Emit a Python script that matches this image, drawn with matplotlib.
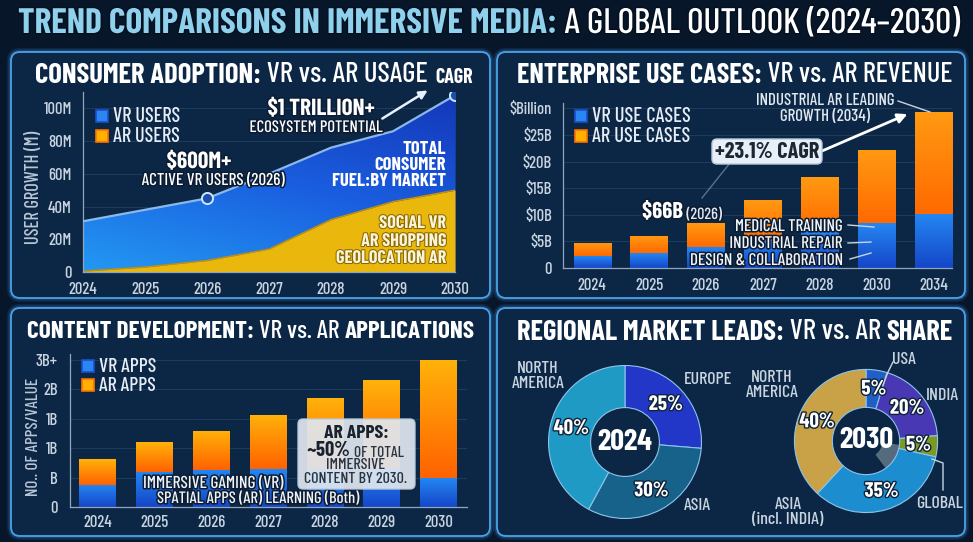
import numpy as np
import matplotlib
matplotlib.use('Agg')
import matplotlib.pyplot as plt
import matplotlib.patheffects as pe
from matplotlib.patches import FancyBboxPatch, Rectangle, Wedge
from matplotlib.colors import LinearSegmentedColormap
from matplotlib.transforms import Bbox

W, H = 973, 542
plt.rcParams['font.family'] = ['Barlow Condensed', 'Archivo Narrow', 'DejaVu Sans']

# ---- data ----
user_years = [2024, 2025, 2026, 2027, 2028, 2029, 2030]
vr_users = [31, 38, 45, 60, 76, 86, 108]      # total consumer users (M)
ar_users = [0.5, 3, 7, 14, 32, 43, 50]

ent_years = ['2024', '2025', '2026', '2027', '2028', '2030', '2034']
ent_vr = [2.2, 2.8, 3.9, 5.0, 6.9, 8.4, 10.1]
ent_ar = [2.5, 3.3, 4.5, 7.8, 10.2, 13.8, 19.3]
ent_ticks = [0, 5, 10, 15, 20, 25, 30]
ent_ticklabels = ['0', '$5B', '$10B', '$15B', '$20B', '$25B', '$Billion']

app_years = ['2024', '2025', '2026', '2027', '2028', '2029', '2030']
vr_apps = [0.38, 0.60, 0.63, 0.64, 0.65, 0.66, 0.49]
ar_apps = [0.44, 0.50, 0.67, 0.93, 1.20, 1.49, 2.00]
app_ticks = [0, 0.5, 1.0, 1.5, 2.0, 2.5]
app_ticklabels = ['0', 'B', '1B', '1B', '2B', '3B+']

reg24_share = [25, 30, 40]            # Europe, Asia, North America
reg24_colors = ['#2236c8', '#17628a', '#1e9ac4']
reg30_share = [5, 20, 5, 35, 40]      # USA, India, Global, Asia, North America
reg30_colors = ['#1f5fc6', '#4838b4', '#7c9a22', '#1c8ed0', '#c9a146']

BG = '#08162a'
PANEL = '#0c2745'
TICK = '#c8d4e0'
VR_C = ('#2486f2', '#1546c8')   # top, bottom
AR_C = ('#ff9a12', '#ff6a00')
TS = 12                          # tick label size
MED = 500                        # weight of the plain texts

fig = plt.figure(figsize=(W / 100, H / 100), dpi=100, facecolor=BG)


def add_px(left, top, width, height, **kw):
    return fig.add_axes([left / W, 1 - (top + height) / H, width / W, height / H], **kw)


# background layer (panels)
bg = add_px(0, 0, W, H, zorder=-5)
bg.set_xlim(0, W)
bg.set_ylim(H, 0)
bg.axis('off')
for (x0, y0, x1, y1) in [(11, 52, 490, 298), (497, 52, 965, 298),
                         (11, 308, 490, 536), (497, 308, 965, 536)]:
    for lw, a in [(6, 0.12), (3.5, 0.25)]:
        bg.add_patch(FancyBboxPatch((x0, y0), x1 - x0, y1 - y0,
                                    boxstyle='round,pad=0,rounding_size=9',
                                    fc='none', ec='#3a98ea', lw=lw, alpha=a))
    bg.add_patch(FancyBboxPatch((x0, y0), x1 - x0, y1 - y0,
                                boxstyle='round,pad=0,rounding_size=9',
                                fc=PANEL, ec='#4aa2e6', lw=1.3))


def style_axes(ax, pad_x, pad_y):
    ax.set_facecolor('none')
    for s in ['top', 'right']:
        ax.spines[s].set_visible(False)
    for s in ['left', 'bottom']:
        ax.spines[s].set_color('#8fa6bf')
        ax.spines[s].set_linewidth(0.9)
    ax.tick_params(length=0, colors=TICK, labelsize=TS)
    ax.tick_params(axis='x', pad=pad_x)
    ax.tick_params(axis='y', pad=pad_y)
    for lab in ax.get_xticklabels() + ax.get_yticklabels():
        lab.set_fontweight(MED)
    ax.grid(axis='y', color='#2c5178', lw=0.6, alpha=0.6)
    ax.set_axisbelow(True)


def shade_bars(ax, bars, c_top, c_bot):
    cmap = LinearSegmentedColormap.from_list('g', [c_bot, c_top])
    grad = np.linspace(0, 1, 64).reshape(-1, 1)
    for b in bars:
        x0, y0 = b.get_x(), b.get_y()
        im = ax.imshow(grad, extent=[x0, x0 + b.get_width(), y0, y0 + b.get_height()],
                       origin='lower', aspect='auto', cmap=cmap, zorder=2.5)
        im.set_clip_path(b)


# ---------------- panel 1: consumer adoption ----------------
ax1 = add_px(83, 92, 372, 180)
fb = ax1.fill_between(user_years, 0, vr_users, color='#1a5ce0', lw=0, zorder=1)
gx, gy = np.meshgrid(np.linspace(0, 1, 120), np.linspace(0, 1, 120))
grad = 0.65 * gy + 0.35 * gx
blue_cmap = LinearSegmentedColormap.from_list('b', ['#2398f2', '#1a5fe0', '#1436b8'])
im = ax1.imshow(grad, extent=[2024, 2030, 0, 110], origin='lower', aspect='auto',
                cmap=blue_cmap, zorder=1.5)
im.set_clip_path(fb.get_paths()[0], ax1.transData)
ax1.fill_between(user_years, 0, ar_users, color='#eab80c', lw=0, zorder=2)
ax1.plot(user_years, ar_users, color='#c98f00', lw=1, zorder=2.2)
ax1.plot(user_years, vr_users, color='#8ab8ea', lw=1.6, zorder=3,
         marker='o', markevery=[2, 6], ms=8, mfc='#1a4fb0', mec='#cfe6ff', mew=1.4)
ax1.set_xlim(2024, 2030)
ax1.set_ylim(0, 110)
ax1.set_xticks(user_years)
ax1.set_yticks([0, 20, 40, 60, 80, 100])
ax1.set_yticklabels(['0', '20M', '40M', '60M', '80M', '100M'])
style_axes(ax1, 7, 8)

# ---------------- panel 2: enterprise ----------------
ax2 = add_px(563, 103, 389, 165)
xpos2 = np.arange(len(ent_years))
b_vr = ax2.bar(xpos2, ent_vr, width=0.65, color='#1f6ae0', zorder=2)
b_ar = ax2.bar(xpos2, ent_ar, bottom=ent_vr, width=0.65, color='#ff7d0a', zorder=2)
shade_bars(ax2, b_vr, *VR_C)
shade_bars(ax2, b_ar, *AR_C)
ax2.set_xlim(-0.51, 6.32)
ax2.set_ylim(0, 31)
ax2.set_xticks(xpos2)
ax2.set_xticklabels(ent_years)
ax2.set_yticks(ent_ticks)
ax2.set_yticklabels(ent_ticklabels)
style_axes(ax2, 7, 8)

# ---------------- panel 3: content ----------------
ax3 = add_px(70, 354, 397, 153)
xpos3 = np.arange(len(app_years))
a_vr = ax3.bar(xpos3, vr_apps, width=0.65, color='#1f6ae0', zorder=2)
a_ar = ax3.bar(xpos3, ar_apps, bottom=vr_apps, width=0.65, color='#ff8c0a', zorder=2)
shade_bars(ax3, a_vr, *VR_C)
shade_bars(ax3, a_ar, '#ffb20a', '#ff6200')
ax3.set_xlim(-0.49, 6.5)
ax3.set_ylim(0, 2.6)
ax3.set_xticks(xpos3)
ax3.set_xticklabels(app_years)
ax3.set_yticks(app_ticks)
ax3.set_yticklabels(app_ticklabels)
style_axes(ax3, 6, 9)


# ---------------- panel 4: donuts ----------------
def donut(cx, cy, R, shares, colors, hole):
    ax = add_px(cx - R, cy - R, 2 * R, 2 * R)
    wedges, _ = ax.pie(shares, colors=colors, startangle=90, counterclock=False,
                       wedgeprops=dict(width=1 - hole, edgecolor='#8cc4ec', linewidth=0.8))
    ax.set_xlim(-1.02, 1.02)
    ax.set_ylim(-1.02, 1.02)
    ax.set_aspect('equal')
    rmid = 1 - (1 - hole) / 2
    for w, v in zip(wedges, shares):
        th = np.deg2rad((w.theta1 + w.theta2) / 2)
        ax.text(rmid * np.cos(th), rmid * np.sin(th), f'{v}%', ha='center', va='center',
                fontsize=15, fontweight='bold', color='white',
                path_effects=[pe.withStroke(linewidth=2, foreground='#10233a')])
    return ax, wedges


dax1, w24 = donut(625, 442, 78, reg24_share, reg24_colors, 0.45)
dax1.text(0, 0, '2024', ha='center', va='center', fontsize=22, fontweight='bold', color='white')
dax2, w30 = donut(866, 441, 73, reg30_share, reg30_colors, 0.47)
dax2.text(0, 0, '2030', ha='center', va='center', fontsize=22, fontweight='bold', color='white')
g = w30[2]
dax2.add_patch(Wedge((0, 0), 0.46, g.theta1 - 40, g.theta2 - 12, width=0.22,
                     color='#5d7284', alpha=0.9, zorder=0.5))

# ---------------- overlay texts ----------------
ov = add_px(0, 0, W, H, zorder=10)
ov.set_xlim(0, W)
ov.set_ylim(H, 0)
ov.axis('off')
ov.patch.set_alpha(0)
dark = [pe.withStroke(linewidth=2.2, foreground='#0b1c33')]
fits = []   # (artists measured, target px, artists scaled, 'w' or 'h')


def rich(x, y, parts, size, **kw):
    first = ov.text(x, y, parts[0][0], fontsize=size, fontweight=parts[0][1],
                    color=parts[0][2], ha='left', va='baseline', **kw)
    arts = [first]
    for part in parts[1:]:
        sz = part[3] if len(part) > 3 else size
        arts.append(ov.annotate(part[0], xy=(1, 0), xycoords=arts[-1], fontsize=sz,
                                fontweight=part[1], color=part[2], ha='left',
                                va='bottom', **kw))
    return arts


def T(x, y, s, size, weight=MED, color='white', ha='center', va='baseline', **kw):
    return ov.text(x, y, s, fontsize=size, fontweight=weight, color=color,
                   ha=ha, va=va, **kw)


def fit(arts, target, scaled=None, dim='w'):
    fits.append((arts, target, scaled if scaled is not None else arts, dim))


def legend(x, y, labels, size, step, target):
    cols = [('#2a86f0', '#1a4fd0'), ('#ffb000', '#ff7000')]
    arts = []
    for i, (lab, c) in enumerate(zip(labels, cols)):
        yy = y + i * step
        ov.add_patch(Rectangle((x, yy - 12), 12, 12, fc=c[0], ec=c[1], lw=1.2))
        arts.append(T(x + 17, yy, lab, size, ha='left', color='#e6edf5'))
    fit(arts[:1], target, arts)


# title
t = rich(18, 33, [('TREND COMPARISONS IN IMMERSIVE MEDIA:', 'bold', '#8fd0ec'),
                  (' A GLOBAL OUTLOOK (2024–2030)', MED, 'white')], 22,
         path_effects=[pe.withStroke(linewidth=2, foreground='#04101f')])
fit(t, 942)

# panel 1
t = rich(35, 83, [('CONSUMER ADOPTION:', 'bold', 'white'),
                  (' VR vs. AR USAGE', MED, 'white')], 18)
fit(t, 393)
fit([T(454, 83, 'CAGR', 12, 'bold')], 38)
fit([T(34, 187, 'USER GROWTH (M)', 10, color='#b8c6d6', rotation=90, va='center')], 113,
    dim='h')
legend(96, 122, ['VR USERS', 'AR USERS'], 13, 20, 67)
ov.annotate('', xy=(430, 89), xytext=(380, 120),
            arrowprops=dict(arrowstyle='-|>', color='#e8f2ff', lw=1.8, mutation_scale=12))
fit([T(321, 115, '$1 TRILLION+', 17, 'bold', path_effects=dark)], 107)
fit([T(316, 132, 'ECOSYSTEM POTENTIAL', 12, path_effects=dark)], 133)
fit([T(199, 168, '$600M+', 17, 'bold', path_effects=dark)], 65)
fit([T(213, 185, 'ACTIVE VR USERS (2026)', 12, path_effects=dark)], 143)
grp = [T(446, yy, s, 13, 'bold', ha='right')
       for yy, s in [(154, 'TOTAL'), (170, 'CONSUMER'), (186, 'FUEL:BY MARKET')]]
fit(grp[2:], 113, grp)
grp = [T(446, yy, s, 13, 'bold', color='#fbf4d8', ha='right',
         path_effects=[pe.withStroke(linewidth=1.5, foreground='#8a6a00')])
       for yy, s in [(228, 'SOCIAL VR'), (246, 'AR SHOPPING'), (263, 'GEOLOCATION AR')]]
fit(grp[2:], 110, grp)

# panel 2
t = rich(517, 83, [('ENTERPRISE USE CASES:', 'bold', 'white'),
                   (' VR vs. AR REVENUE', MED, 'white')], 18)
fit(t, 435)
legend(575, 122, ['VR USE CASES', 'AR USE CASES'], 13, 20, 98)
grp = [T(825, 105, 'INDUSTRIAL AR LEADING', 12, color='#dfe7f0'),
       T(825, 121, 'GROWTH (2034)', 12, color='#dfe7f0')]
fit(grp[:1], 138, grp)
ov.plot([898, 930], [101, 112], color='#c8d4e0', lw=1)
ov.plot([702, 730], [198, 163], color='#8aa4c0', lw=1, alpha=0.6)
ov.annotate('', xy=(910, 113), xytext=(815, 154),
            arrowprops=dict(arrowstyle='-|>', color='white', lw=2, mutation_scale=14))
ov.add_patch(FancyBboxPatch((712, 139), 110, 25, boxstyle='round,pad=0,rounding_size=5',
                            fc='#e9eff6', ec='#b9cadb', lw=1, zorder=3))
fit([T(767, 158, '+23.1% CAGR', 17, 'bold', color='#1b2735', zorder=4)], 104)
t = rich(642, 218, [('$66B', 'bold', 'white'), (' (2026)', MED, '#dfe7f0', 12)], 17,
         path_effects=dark)
fit(t, 80)
grp = []
for yy, s, (lx0, ly0, lx1, ly1) in [(231, 'MEDICAL TRAINING', (848, 225, 874, 227)),
                                    (248, 'INDUSTRIAL REPAIR', (848, 243, 871, 242)),
                                    (265, 'DESIGN & COLLABORATION', (850, 259, 871, 253))]:
    grp.append(T(842, yy, s, 13, color='#f2f5f8', ha='right', path_effects=dark))
    ov.plot([lx0, lx1], [ly0, ly1], color='#c8d4e0', lw=1)
fit(grp[2:], 153, grp)

# panel 3
t = rich(27, 338, [('CONTENT DEVELOPMENT:', 'bold', 'white'),
                   (' VR vs. AR ', MED, 'white'),
                   ('APPLICATIONS', 'bold', 'white')], 18)
fit(t, 448)
fit([T(33, 437, 'NO.. OF APPS/VALUE', 10, color='#b8c6d6', rotation=90, va='center')], 118,
    dim='h')
legend(82, 372, ['VR APPS', 'AR APPS'], 13, 19, 57)
fit([T(143, 488, 'IMMERSIVE GAMING (VR)', 12, ha='left', color='#eef2f6',
       path_effects=dark)], 140)
fit([T(157, 503, 'SPATIAL APPS (AR) LEARNING (Both)', 12, ha='left', color='#eef2f6',
       path_effects=dark)], 202)
ov.add_patch(FancyBboxPatch((298, 419), 117, 70, boxstyle='round,pad=0,rounding_size=5',
                            fc='#dfe7ef', ec='#b9cadb', lw=1, alpha=0.93, zorder=3))
fit([T(356, 438, 'AR APPS:', 17, 'bold', color='#18222e', zorder=4)], 65)
t = rich(307, 456, [('~50%', 'bold', '#18222e'), (' OF TOTAL', MED, '#2a3440', 12)], 16,
         zorder=4)
fit(t, 96)
grp = [T(356, 469, 'IMMERSIVE', 12, color='#2a3440', zorder=4),
       T(356, 483, 'CONTENT BY 2030.', 12, color='#2a3440', zorder=4)]
fit(grp[1:], 103, grp)

# panel 4
t = rich(517, 340, [('REGIONAL MARKET LEADS:', 'bold', 'white'),
                    (' VR vs. AR ', MED, 'white'),
                    ('SHARE', 'bold', 'white')], 18)
fit(t, 436)
lab = dict(color='#c8d4e0', va='center', linespacing=1.0)
grp = [T(708, 380, 'EUROPE', 12, **lab),
       T(538, 376, 'NORTH\nAMERICA', 12, **lab),
       T(697, 505, 'ASIA', 12, **lab),
       T(772, 385, 'NORTH\nAMERICA', 12, **lab),
       T(904, 360, 'USA', 12, **lab),
       T(942, 395, 'INDIA', 12, **lab),
       T(788, 512, 'ASIA\n(incl. INDIA)', 12, **lab),
       T(940, 503, 'GLOBAL', 12, **lab)]
fit(grp[:1], 48, grp)
ov.plot([893, 888, 883], [362, 372, 385], color='#c8d4e0', lw=1)
ov.plot([932, 943, 943], [459, 463, 490], color='#c8d4e0', lw=1)

# scale the texts to the widths they take in the design
fig.canvas.draw()
rend = fig.canvas.get_renderer()
for measured, target, scaled, dim in fits:
    bb = Bbox.union([m.get_window_extent(rend) for m in measured])
    f = target / (bb.width if dim == 'w' else bb.height)
    for s in scaled:
        s.set_fontsize(s.get_fontsize() * f)

fig.savefig('out.png', dpi=100, facecolor=BG)
